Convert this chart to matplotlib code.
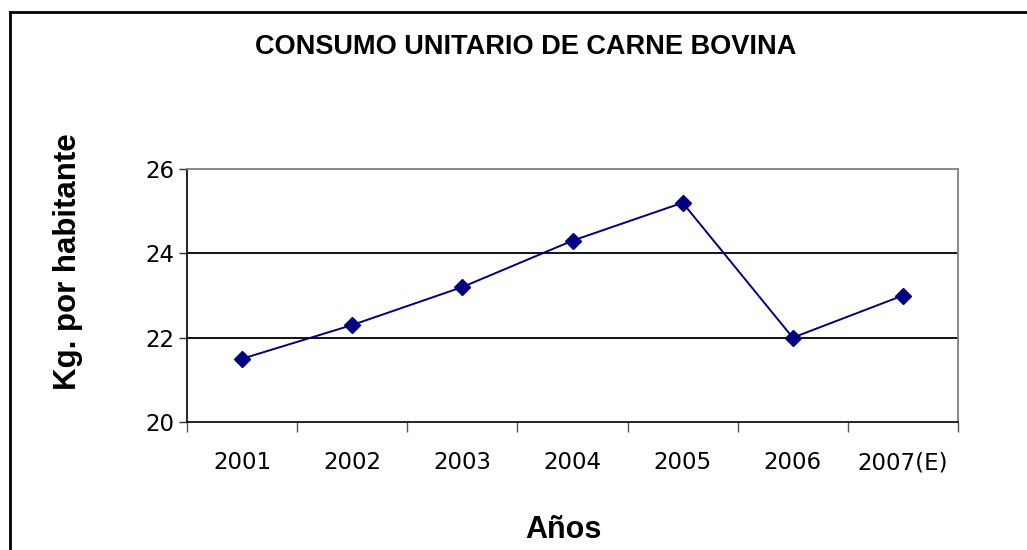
import matplotlib.pyplot as plt
from matplotlib.lines import Line2D

years = ["2001", "2002", "2003", "2004", "2005", "2006", "2007(E)"]
kg_per_capita = [21.5, 22.3, 23.2, 24.3, 25.2, 22.0, 23.0]
y_ticks = [20, 22, 24, 26]

fig = plt.figure(figsize=(10.27, 5.5), dpi=100)
ax = fig.add_axes([187 / 1027, 1 - 422 / 550, (958 - 187) / 1027, (422 - 169) / 550])

# outer chart border (left and top only are visible in the crop)
fig.add_artist(Line2D([10 / 1027, 10 / 1027], [0, 1 - 12 / 550], color="black", lw=2,
                      transform=fig.transFigure))
fig.add_artist(Line2D([10 / 1027, 1], [1 - 12 / 550, 1 - 12 / 550], color="black", lw=2,
                      transform=fig.transFigure))

x = range(len(years))
ax.plot(x, kg_per_capita, color="#000080", lw=1.4, marker="D", markersize=8,
        zorder=3)

ax.set_ylim(20, 26)
ax.set_xlim(-0.5, len(years) - 0.5)
ax.set_yticks(y_ticks)
ax.set_xticks(list(x))
ax.set_xticklabels(years)
ax.set_xticks([i - 0.5 for i in range(len(years) + 1)], minor=True)
ax.tick_params(axis="x", which="major", length=0, pad=21, labelsize=16.5)
ax.tick_params(axis="x", which="minor", length=7, width=1, color="#555555")
ax.tick_params(axis="y", length=6, width=1, color="#333333", labelsize=16.5, pad=3)

for v in [22, 24]:
    ax.axhline(v, color="black", lw=1.3, zorder=1)

for side in ["top", "right"]:
    ax.spines[side].set_color("#808080")
    ax.spines[side].set_linewidth(1.3)
for side in ["left", "bottom"]:
    ax.spines[side].set_color("black")
    ax.spines[side].set_linewidth(1.2)

fig.text(526 / 1027, 1 - 47 / 550, "CONSUMO UNITARIO DE CARNE BOVINA",
         family="Liberation Sans", weight="bold", fontsize=19.5,
         ha="center", va="center")
fig.text(68 / 1027, 1 - 262 / 550, "Kg. por habitante", family="Liberation Sans",
         weight="bold", fontsize=22.5, rotation=90, ha="center", va="center")
fig.text(563 / 1027, 1 - 530 / 550, "Años", family="Liberation Sans",
         weight="bold", fontsize=22, ha="center", va="center")

fig.savefig("out.png", dpi=100, facecolor="white")
